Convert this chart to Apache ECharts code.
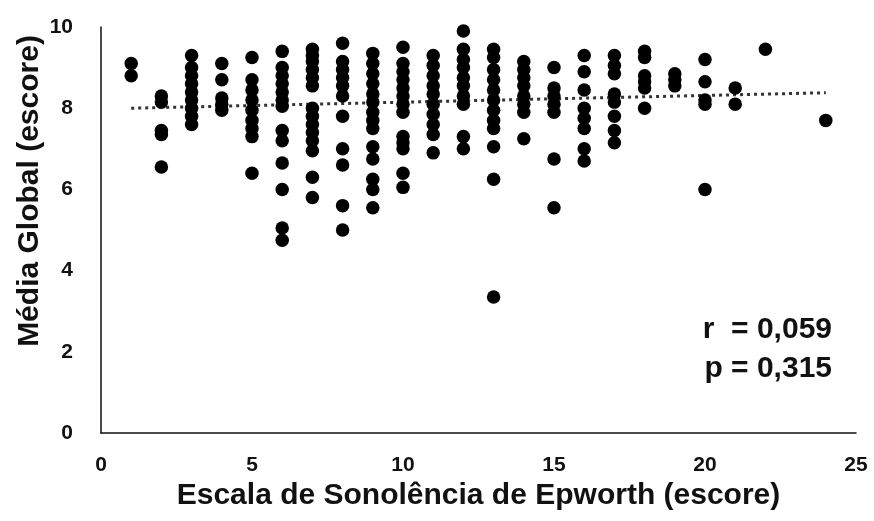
<!DOCTYPE html>
<html>
<head>
<meta charset="utf-8">
<script src="https://cdn.jsdelivr.net/npm/echarts@6/dist/echarts.min.js"></script>
<style>html,body{margin:0;padding:0;background:#fff;}#c{width:874px;height:521px;}</style>
</head>
<body>
<div id="c"></div>
<script>
// Epworth score (x) and the Média Global values observed at each score
var epworthScores = [1, 2, 3, 4, 5, 6, 7, 8, 9, 10, 11, 12, 13, 14, 15, 16, 17, 18, 19, 20, 21, 22, 24];
var mediaByScore = [
  [9.1, 8.8],
  [8.3, 8.15, 7.45, 7.35, 6.55],
  [9.3, 9.0, 8.8, 8.6, 8.4, 8.2, 8.0, 7.8, 7.6],
  [9.1, 8.7, 8.25, 8.1, 7.95],
  [9.25, 8.7, 8.45, 8.2, 7.95, 7.7, 7.5, 7.3, 6.4],
  [9.4, 9.0, 8.8, 8.6, 8.4, 8.2, 8.05, 7.45, 7.2, 6.65, 6.0, 5.05, 4.75],
  [9.45, 9.3, 9.15, 8.95, 8.75, 8.55, 8.0, 7.8, 7.6, 7.4, 7.2, 6.95, 6.3, 5.8],
  [9.6, 9.15, 8.95, 8.75, 8.55, 8.3, 7.8, 7.0, 6.6, 5.6, 5.0],
  [9.35, 9.1, 8.85, 8.6, 8.35, 8.15, 7.9, 7.7, 7.5, 7.05, 6.75, 6.25, 6.0, 5.55],
  [9.5, 9.1, 8.9, 8.7, 8.5, 8.3, 8.1, 7.9, 7.3, 7.15, 7.0, 6.4, 6.05],
  [9.3, 9.05, 8.8, 8.55, 8.35, 8.1, 7.85, 7.6, 7.35, 6.9],
  [9.9, 9.45, 9.2, 9.0, 8.75, 8.55, 8.3, 8.1, 7.3, 7.0],
  [9.45, 9.25, 8.95, 8.7, 8.45, 8.2, 7.95, 7.7, 7.5, 7.05, 6.25, 3.35],
  [9.15, 8.95, 8.75, 8.55, 8.3, 8.1, 7.9, 7.25],
  [9.0, 8.5, 8.3, 8.1, 7.9, 6.75, 5.55],
  [9.3, 8.9, 8.45, 8.0, 7.75, 7.5, 7.0, 6.7],
  [9.3, 9.05, 8.85, 8.35, 8.15, 7.8, 7.45, 7.15],
  [9.4, 9.25, 8.8, 8.65, 8.5, 8.0],
  [8.85, 8.7, 8.55],
  [9.2, 8.65, 8.2, 8.1, 6.0],
  [8.5, 8.1],
  [9.45],
  [7.7]
];
// Linear trend line end points
var trendX = [1, 24];
var trendY = [8.0, 8.38];
// Axis ticks
var xTicks = [0, 5, 10, 15, 20, 25];
var yTicks = [0, 2, 4, 6, 8, 10];
var statsText = ['r  = 0,059', 'p = 0,315'];
var xTitle = 'Escala de Sonolência de Epworth (escore)';
var yTitle = 'Média Global (escore)';

var points = [];
epworthScores.forEach(function (x, i) {
  mediaByScore[i].forEach(function (y) { points.push([x, y]); });
});
var trend = trendX.map(function (x, i) { return [x, trendY[i]]; });

var font = '"Liberation Sans", Arial, sans-serif';
var chart = echarts.init(document.getElementById('c'), null, {renderer: 'canvas'});
chart.setOption({
  animation: false,
  backgroundColor: '#ffffff',
  grid: {left: 101, right: 18, top: 27, bottom: 88, containLabel: false},
  xAxis: {
    type: 'value', min: xTicks[0], max: xTicks[xTicks.length - 1], interval: 5,
    name: xTitle, nameLocation: 'middle', nameGap: 41,
    nameTextStyle: {fontFamily: font, fontWeight: 'bold', fontSize: 30, color: '#111'},
    axisLine: {show: true, lineStyle: {color: '#111', width: 1.5}},
    axisTick: {show: false},
    splitLine: {show: false},
    axisLabel: {margin: 22, fontFamily: font, fontWeight: 'bold', fontSize: 21, color: '#111'}
  },
  yAxis: {
    type: 'value', min: yTicks[0], max: yTicks[yTicks.length - 1], interval: 2,
    axisLine: {show: true, lineStyle: {color: '#111', width: 1.5}},
    axisTick: {show: false},
    splitLine: {show: false},
    axisLabel: {margin: 28, fontFamily: font, fontWeight: 'bold', fontSize: 21, color: '#111'}
  },
  series: [
    {
      type: 'line', data: trend, symbol: 'none', silent: true, z: 1,
      lineStyle: {color: '#333', width: 3, type: [3, 4]}
    },
    {
      type: 'scatter', data: points, symbol: 'circle', symbolSize: 13.5, z: 2,
      itemStyle: {color: '#000', opacity: 1}
    }
  ],
  graphic: [
    {type: 'text', x: 30, y: 191, rotation: Math.PI / 2,
     style: {text: yTitle, fontFamily: font, fontWeight: 'bold', fontSize: 30, fill: '#111', textAlign: 'center', textVerticalAlign: 'middle'}},
    {type: 'text', x: 832, y: 330,
     style: {text: statsText[0], fontFamily: font, fontWeight: 'bold', fontSize: 30, fill: '#111', textAlign: 'right', textVerticalAlign: 'middle'}},
    {type: 'text', x: 832, y: 369,
     style: {text: statsText[1], fontFamily: font, fontWeight: 'bold', fontSize: 30, fill: '#111', textAlign: 'right', textVerticalAlign: 'middle'}}
  ]
});
</script>
</body>
</html>
